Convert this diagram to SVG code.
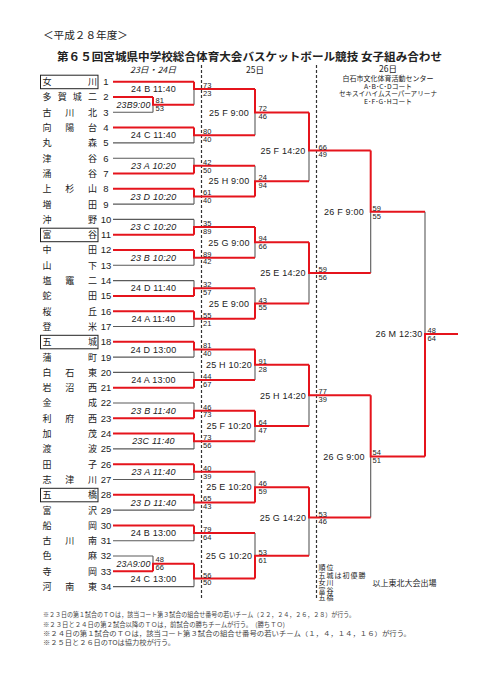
<svg xmlns="http://www.w3.org/2000/svg" width="481" height="680" viewBox="0 0 481 680">
<style>
.t{font-family:"Noto Sans CJK JP","Liberation Sans",sans-serif;fill:#222}
.nm{font-family:"Noto Sans CJK JP",sans-serif;font-size:9px;fill:#222}
.no{font-family:"Liberation Sans",Arial,sans-serif;font-size:9.5px;text-anchor:middle;fill:#222}
.lb{font-family:"Liberation Sans",Arial,sans-serif;font-size:9px;text-anchor:middle;fill:#222;letter-spacing:0.2px}
.it{font-style:italic}
.sc{font-family:"Liberation Sans",Arial,sans-serif;font-size:7.5px;fill:#222}
.r{stroke:#e5141c;stroke-width:2;fill:none}
.k{stroke:#5a5a5a;stroke-width:1.1;fill:none}
.d{stroke:#333;stroke-width:1.2;stroke-dasharray:3 2;fill:none}
.box{fill:none;stroke:#222;stroke-width:1}
.note{font-family:"Noto Sans CJK JP",sans-serif;font-size:6.3px;fill:#444}
.rk{font-family:"Noto Sans CJK JP",sans-serif;font-size:7px;fill:#222;letter-spacing:1px}
</style>
<rect width="481" height="680" fill="#fff"/>
<g id="title">
<text class="t" x="43" y="38.5" font-size="10.5" textLength="85" lengthAdjust="spacingAndGlyphs">＜平成２８年度＞</text>
<text class="t" x="57" y="60.5" font-size="11" font-weight="bold" textLength="385" lengthAdjust="spacingAndGlyphs">第６５回宮城県中学校総合体育大会バスケットボール競技 女子組み合わせ</text>
</g>
<g id="headers">
<text class="t it" x="153" y="73" font-size="8.5" text-anchor="middle" textLength="46" lengthAdjust="spacingAndGlyphs">23日・24日</text>
<text class="t" x="255" y="72.5" font-size="8.5" text-anchor="middle">25日</text>
<text class="t" text-anchor="middle"><tspan x="388" y="72" font-size="8.5">26日</tspan><tspan x="388" y="81" font-size="7">白石市文化体育活動センター</tspan><tspan x="388" y="88.5" font-size="6.8">A･B･C･Dコート</tspan><tspan x="388" y="96" font-size="6.6">セキスイハイムスーパーアリーナ</tspan><tspan x="388" y="104" font-size="6.8">E･F･G･Hコート</tspan></text>
</g>
<g id="dividers">
<line class="d" x1="201.5" y1="65" x2="201.5" y2="600"/>
<line class="d" x1="316.5" y1="65" x2="316.5" y2="600"/>
</g>
<g id="teams">
<g id="team-01"><rect class="box" x="40.5" y="75.2" width="57.5" height="13.5"/><text class="nm" x="42.5 88" y="85.1">女川</text><text class="no" x="106" y="85.1">1</text></g>
<g id="team-02"><text class="nm" x="42.5 57.67 72.83 88" y="100.4">多賀城二</text><text class="no" x="106" y="100.4">2</text></g>
<g id="team-03"><text class="nm" x="42.5 65.25 88" y="115.7">古川北</text><text class="no" x="106" y="115.7">3</text></g>
<g id="team-04"><text class="nm" x="42.5 65.25 88" y="131">向陽台</text><text class="no" x="106" y="131">4</text></g>
<g id="team-05"><text class="nm" x="42.5 88" y="146.3">丸森</text><text class="no" x="106" y="146.3">5</text></g>
<g id="team-06"><text class="nm" x="42.5 88" y="161.6">津谷</text><text class="no" x="106" y="161.6">6</text></g>
<g id="team-07"><text class="nm" x="42.5 88" y="176.9">涌谷</text><text class="no" x="106" y="176.9">7</text></g>
<g id="team-08"><text class="nm" x="42.5 65.25 88" y="192.2">上杉山</text><text class="no" x="106" y="192.2">8</text></g>
<g id="team-09"><text class="nm" x="42.5 88" y="207.5">増田</text><text class="no" x="106" y="207.5">9</text></g>
<g id="team-10"><text class="nm" x="42.5 88" y="222.8">沖野</text><text class="no" x="106" y="222.8">10</text></g>
<g id="team-11"><rect class="box" x="40.5" y="228.2" width="57.5" height="13.5"/><text class="nm" x="42.5 88" y="238.1">富谷</text><text class="no" x="106" y="238.1">11</text></g>
<g id="team-12"><text class="nm" x="42.5 88" y="253.4">中田</text><text class="no" x="106" y="253.4">12</text></g>
<g id="team-13"><text class="nm" x="42.5 88" y="268.7">山下</text><text class="no" x="106" y="268.7">13</text></g>
<g id="team-14"><text class="nm" x="42.5 65.25 88" y="284">塩竈二</text><text class="no" x="106" y="284">14</text></g>
<g id="team-15"><text class="nm" x="42.5 88" y="299.3">蛇田</text><text class="no" x="106" y="299.3">15</text></g>
<g id="team-16"><text class="nm" x="42.5 88" y="314.6">桜丘</text><text class="no" x="106" y="314.6">16</text></g>
<g id="team-17"><text class="nm" x="42.5 88" y="329.9">登米</text><text class="no" x="106" y="329.9">17</text></g>
<g id="team-18"><rect class="box" x="40.5" y="335.3" width="57.5" height="13.5"/><text class="nm" x="42.5 88" y="345.2">五城</text><text class="no" x="106" y="345.2">18</text></g>
<g id="team-19"><text class="nm" x="42.5 88" y="360.5">蒲町</text><text class="no" x="106" y="360.5">19</text></g>
<g id="team-20"><text class="nm" x="42.5 65.25 88" y="375.8">白石東</text><text class="no" x="106" y="375.8">20</text></g>
<g id="team-21"><text class="nm" x="42.5 65.25 88" y="391.1">岩沼西</text><text class="no" x="106" y="391.1">21</text></g>
<g id="team-22"><text class="nm" x="42.5 88" y="406.4">金成</text><text class="no" x="106" y="406.4">22</text></g>
<g id="team-23"><text class="nm" x="42.5 65.25 88" y="421.7">利府西</text><text class="no" x="106" y="421.7">23</text></g>
<g id="team-24"><text class="nm" x="42.5 88" y="437">加茂</text><text class="no" x="106" y="437">24</text></g>
<g id="team-25"><text class="nm" x="42.5 88" y="452.3">渡波</text><text class="no" x="106" y="452.3">25</text></g>
<g id="team-26"><text class="nm" x="42.5 88" y="467.6">田子</text><text class="no" x="106" y="467.6">26</text></g>
<g id="team-27"><text class="nm" x="42.5 65.25 88" y="482.9">志津川</text><text class="no" x="106" y="482.9">27</text></g>
<g id="team-28"><rect class="box" x="40.5" y="488.3" width="57.5" height="13.5"/><text class="nm" x="42.5 88" y="498.2">五橋</text><text class="no" x="106" y="498.2">28</text></g>
<g id="team-29"><text class="nm" x="42.5 88" y="513.5">富沢</text><text class="no" x="106" y="513.5">29</text></g>
<g id="team-30"><text class="nm" x="42.5 88" y="528.8">船岡</text><text class="no" x="106" y="528.8">30</text></g>
<g id="team-31"><text class="nm" x="42.5 65.25 88" y="544.1">古川南</text><text class="no" x="106" y="544.1">31</text></g>
<g id="team-32"><text class="nm" x="42.5 88" y="559.4">色麻</text><text class="no" x="106" y="559.4">32</text></g>
<g id="team-33"><text class="nm" x="42.5 88" y="574.7">寺岡</text><text class="no" x="106" y="574.7">33</text></g>
<g id="team-34"><text class="nm" x="42.5 65.25 88" y="590">河南東</text><text class="no" x="106" y="590">34</text></g>
</g>
<g id="connectors">
<path class="k" d="M113,112.3H153M113,556H153M113,142.9H194M113,158.2H194M113,204.1H194M113,219.4H194M113,265.3H194M113,280.6H194M113,326.5H194M113,357.1H194M113,372.4H194M113,403H194M113,448.9H194M113,479.5H194M113,510.1H194M113,540.7H194M113,586.6H194
M153,104.65V112.3M153,556V563.65
M194,89V104.65M194,135.25V142.9M194,158.2V165.85M194,196.45V204.1M194,219.4V227.05M194,257.65V265.3M194,280.6V288.25M194,318.85V326.5M194,349.45V357.1M194,372.4V380.05M194,403V410.65M194,441.25V448.9M194,471.85V479.5M194,502.45V510.1M194,533.05V540.7M194,578.5V586.6
M255,112.4V135.25M255,165.85V181.15M255,242.35V257.65M255,288.25V303.55M255,364.75V380.05M255,425.95V441.25M255,471.85V487.15M255,533.05V555.8
M309,150.5V181.15M309,272.95V303.55M309,395.35V425.95M309,517.5V555.8
M370.7,211.7V272.95M370.7,456.4V517.5M425,211.7V334"/>
<path class="r" d="M113,81.7H194M113,97H153M113,571.3H153M113,127.6H194M113,173.5H194M113,188.8H194M113,234.7H194M113,250H194M113,295.9H194M113,311.2H194M113,341.8H194M113,387.7H194M113,418.3H194M113,433.6H194M113,464.2H194M113,494.8H194M113,525.4H194
M153,97V104.65H194M153,571.3V563.65H194
M194,81.7V89H255M194,127.6V135.25H255M194,173.5V165.85H255M194,188.8V196.45H255M194,234.7V227.05H255M194,250V257.65H255M194,295.9V288.25H255M194,311.2V318.85H255M194,341.8V349.45H255M194,387.7V380.05H255M194,418.3V410.65H255M194,433.6V441.25H255M194,464.2V471.85H255M194,494.8V502.45H255M194,525.4V533.05H255M194,563.65V578.5H255
M255,89V112.4H309M255,196.45V181.15H309M255,227.05V242.35H309M255,318.85V303.55H309M255,349.45V364.75H309M255,410.65V425.95H309M255,502.45V487.15H309M255,578.5V555.8H309
M309,112.4V150.5H370.7M309,242.35V272.95H370.7M309,364.75V395.35H370.7M309,487.15V517.5H370.7
M370.7,150.5V211.7H425M370.7,395.35V456.4H425M425,456.4V334H458"/>
</g>
<g id="round1">
<g id="m-S1"><text class="lb it" x="133.5" y="107.8" textLength="34" lengthAdjust="spacingAndGlyphs">23B9:00</text><text class="sc" x="155.5" y="103">81</text><text class="sc" x="155.5" y="111.4">53</text></g>
<g id="m-S2"><text class="lb it" x="133.5" y="566.8" textLength="34" lengthAdjust="spacingAndGlyphs">23A9:00</text><text class="sc" x="155.5" y="562">48</text><text class="sc" x="155.5" y="570.4">66</text></g>
<g id="m-01"><text class="lb" x="153.5" y="92.2">24 B 11:40</text><text class="sc" x="203" y="88">73</text><text class="sc" x="203" y="95.8">23</text></g>
<g id="m-02"><text class="lb" x="153.5" y="138.45">24 C 11:40</text><text class="sc" x="203" y="134.25">80</text><text class="sc" x="203" y="142.05">40</text></g>
<g id="m-03"><text class="lb it" x="153.5" y="169.05">23 A 10:20</text><text class="sc" x="203" y="164.85">42</text><text class="sc" x="203" y="172.65">50</text></g>
<g id="m-04"><text class="lb it" x="153.5" y="199.65">23 D 10:20</text><text class="sc" x="203" y="195.45">61</text><text class="sc" x="203" y="203.25">40</text></g>
<g id="m-05"><text class="lb it" x="153.5" y="230.25">23 C 10:20</text><text class="sc" x="203" y="226.05">35</text><text class="sc" x="203" y="233.85">89</text></g>
<g id="m-06"><text class="lb it" x="153.5" y="260.85">23 B 10:20</text><text class="sc" x="203" y="256.65">89</text><text class="sc" x="203" y="264.45">42</text></g>
<g id="m-07"><text class="lb" x="153.5" y="291.45">24 D 11:40</text><text class="sc" x="203" y="287.25">32</text><text class="sc" x="203" y="295.05">57</text></g>
<g id="m-08"><text class="lb" x="153.5" y="322.05">24 A 11:40</text><text class="sc" x="203" y="317.85">55</text><text class="sc" x="203" y="325.65">21</text></g>
<g id="m-09"><text class="lb" x="153.5" y="352.65">24 D 13:00</text><text class="sc" x="203" y="348.45">81</text><text class="sc" x="203" y="356.25">40</text></g>
<g id="m-10"><text class="lb" x="153.5" y="383.25">24 A 13:00</text><text class="sc" x="203" y="379.05">44</text><text class="sc" x="203" y="386.85">67</text></g>
<g id="m-11"><text class="lb it" x="153.5" y="413.85">23 B 11:40</text><text class="sc" x="203" y="409.65">46</text><text class="sc" x="203" y="417.45">73</text></g>
<g id="m-12"><text class="lb it" x="153.5" y="444.45">23C 11:40</text><text class="sc" x="203" y="440.25">73</text><text class="sc" x="203" y="448.05">56</text></g>
<g id="m-13"><text class="lb it" x="153.5" y="475.05">23 A 11:40</text><text class="sc" x="203" y="470.85">40</text><text class="sc" x="203" y="478.65">39</text></g>
<g id="m-14"><text class="lb it" x="153.5" y="505.65">23 D 11:40</text><text class="sc" x="203" y="501.45">65</text><text class="sc" x="203" y="509.25">43</text></g>
<g id="m-15"><text class="lb" x="153.5" y="536.25">24 B 13:00</text><text class="sc" x="203" y="532.05">79</text><text class="sc" x="203" y="539.85">64</text></g>
<g id="m-16"><text class="lb" x="153.5" y="581.7">24 C 13:00</text><text class="sc" x="203" y="577.5">56</text><text class="sc" x="203" y="585.3">50</text></g>
</g>
<g id="round2">
<g id="a-1"><text class="lb" x="229" y="115.6">25 F 9:00</text><text class="sc" x="258.5" y="111.4">72</text><text class="sc" x="258.5" y="119.2">46</text></g>
<g id="a-2"><text class="lb" x="229" y="184.35">25 H 9:00</text><text class="sc" x="258.5" y="180.15">24</text><text class="sc" x="258.5" y="187.95">94</text></g>
<g id="a-3"><text class="lb" x="229" y="245.55">25 G 9:00</text><text class="sc" x="258.5" y="241.35">94</text><text class="sc" x="258.5" y="249.15">66</text></g>
<g id="a-4"><text class="lb" x="229" y="306.75">25 E 9:00</text><text class="sc" x="258.5" y="302.55">43</text><text class="sc" x="258.5" y="310.35">55</text></g>
<g id="a-5"><text class="lb" x="229" y="367.95">25 H 10:20</text><text class="sc" x="258.5" y="363.75">91</text><text class="sc" x="258.5" y="371.55">28</text></g>
<g id="a-6"><text class="lb" x="229" y="429.15">25 F 10:20</text><text class="sc" x="258.5" y="424.95">64</text><text class="sc" x="258.5" y="432.75">47</text></g>
<g id="a-7"><text class="lb" x="229" y="490.35">25 E 10:20</text><text class="sc" x="258.5" y="486.15">46</text><text class="sc" x="258.5" y="493.95">59</text></g>
<g id="a-8"><text class="lb" x="229" y="559">25 G 10:20</text><text class="sc" x="258.5" y="554.8">53</text><text class="sc" x="258.5" y="562.6">61</text></g>
</g>
<g id="round3">
<g id="b-1"><text class="lb" x="283" y="153.7">25 F 14:20</text><text class="sc" x="318.5" y="149.5">66</text><text class="sc" x="318.5" y="157.3">49</text></g>
<g id="b-2"><text class="lb" x="283" y="276.15">25 E 14:20</text><text class="sc" x="318.5" y="271.95">59</text><text class="sc" x="318.5" y="279.75">56</text></g>
<g id="b-3"><text class="lb" x="283" y="398.55">25 H 14:20</text><text class="sc" x="318.5" y="394.35">77</text><text class="sc" x="318.5" y="402.15">39</text></g>
<g id="b-4"><text class="lb" x="283" y="520.7">25 G 14:20</text><text class="sc" x="318.5" y="516.5">53</text><text class="sc" x="318.5" y="524.3">46</text></g>
</g>
<g id="round4">
<g id="c-1"><text class="lb" x="344" y="214.9">26 F 9:00</text><text class="sc" x="372.5" y="210.7">59</text><text class="sc" x="372.5" y="218.5">55</text></g>
<g id="c-2"><text class="lb" x="344" y="459.6">26 G 9:00</text><text class="sc" x="372.5" y="455.4">54</text><text class="sc" x="372.5" y="463.2">51</text></g>
</g>
<g id="final">
<text class="lb" x="399" y="337.2">26 M 12:30</text><text class="sc" x="427.5" y="333">48</text><text class="sc" x="427.5" y="340.8">64</text>
</g>
<g id="ranking">
<text class="rk"><tspan x="318.5" y="569.8">順位</tspan><tspan x="318.5" y="577.6">五城は初優勝</tspan><tspan x="318.5" y="585.2">女川</tspan><tspan x="318.5" y="592.6">富谷</tspan><tspan x="318.5" y="600">五橋</tspan></text>
<text class="t" x="372.5" y="586.3" font-size="8" textLength="64" lengthAdjust="spacingAndGlyphs">以上東北大会出場</text>
</g>
<g id="notes">
<text class="note" x="43" y="617.3" textLength="312" lengthAdjust="spacingAndGlyphs">※２３日の第１試合のＴＯは，該当コート第３試合の組合せ番号の若いチーム（２２，２４，２６，２８）が行う。</text>
<text class="note" x="43" y="626.6" textLength="242" lengthAdjust="spacingAndGlyphs">※２３日と２４日の第２試合以降のＴＯは，前試合の勝ちチームが行う。　(勝ちＴＯ)</text>
<text class="note" x="43" y="635.6" textLength="368" lengthAdjust="spacingAndGlyphs">※２４日の第１試合のＴＯは，該当コート第３試合の組合せ番号の若いチーム（１，４，１４，１６）が行う。</text>
<text class="note" x="43" y="645" textLength="132" lengthAdjust="spacingAndGlyphs">※２５日と２６日のTOは協力校が行う。</text>
</g>
</svg>
